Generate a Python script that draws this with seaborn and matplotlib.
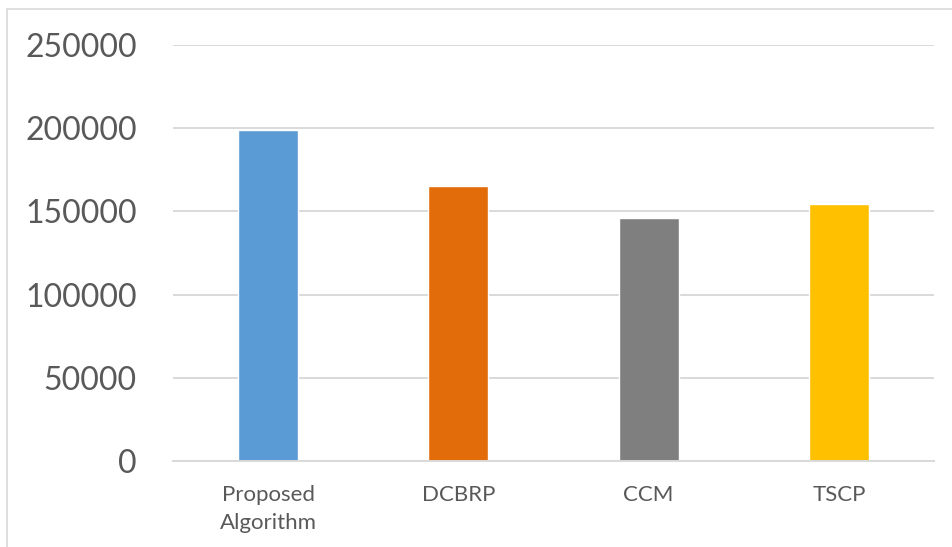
import matplotlib
matplotlib.use("Agg")
import matplotlib.pyplot as plt
from matplotlib.lines import Line2D
import seaborn as sns
import pandas as pd

categories = ["Proposed\nAlgorithm", "DCBRP", "CCM", "TSCP"]
values = [199000, 165200, 146000, 154500]
colors = ["#5B9BD5", "#E36C0A", "#7F7F7F", "#FFC000"]
yticks = [0, 50000, 100000, 150000, 200000, 250000]

sns.set_theme(style="white")
plt.rcParams["font.family"] = ["Lato", "DejaVu Sans"]

df = pd.DataFrame({"category": categories, "value": values})

fig = plt.figure(figsize=(9.52, 5.47), dpi=100)
ax = fig.add_axes([173 / 952, 1 - 461 / 547, (934 - 173) / 952, (461 - 45) / 547])

sns.barplot(data=df, x="category", y="value", hue="category", palette=colors,
            width=0.315, legend=False, ax=ax, saturation=1)

ax.set_ylim(0, 250000)
ax.set_xlim(-0.5, 3.5)
ax.set_yticks(yticks)
ax.set_yticklabels([str(v) for v in yticks])
ax.set_xlabel("")
ax.set_ylabel("")

grid_color = "#D9D9D9"
ax.yaxis.grid(True, color=grid_color, linewidth=1.4)
ax.set_axisbelow(True)
for side in ["top", "right", "left"]:
    ax.spines[side].set_visible(False)
ax.spines["bottom"].set_color(grid_color)
ax.spines["bottom"].set_linewidth(1.4)

ax.tick_params(axis="y", length=0, pad=26, labelsize=23, labelcolor="#595959")
ax.tick_params(axis="x", length=0, pad=17, labelsize=16, labelcolor="#595959")
for lbl in ax.get_xticklabels():
    lbl.set_linespacing(1.55)

# chart area border (top and left edges)
fig.add_artist(Line2D([7 / 952, 1.0], [1 - 9 / 547, 1 - 9 / 547],
                      transform=fig.transFigure, color=grid_color, linewidth=1.2))
fig.add_artist(Line2D([7 / 952, 7 / 952], [0.0, 1 - 9 / 547],
                      transform=fig.transFigure, color=grid_color, linewidth=1.2))

fig.savefig("out.png", dpi=100, facecolor="white")
